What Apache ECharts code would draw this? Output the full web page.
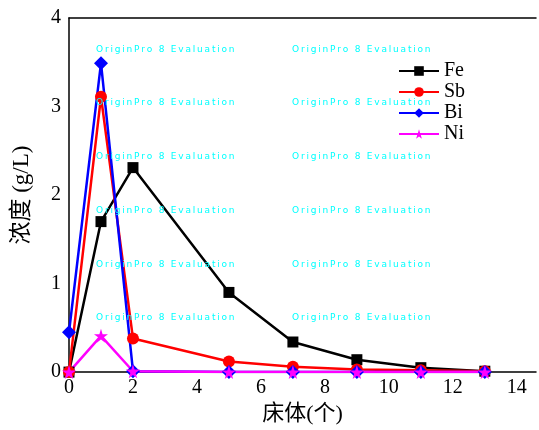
<!DOCTYPE html>
<html>
<head>
<meta charset="utf-8">
<script src="https://cdn.jsdelivr.net/npm/echarts@6/dist/echarts.min.js"></script>
<style>
  html, body { margin: 0; padding: 0; background: #fff; }
  #main { width: 539px; height: 430px; }
</style>
</head>
<body>
<div id="main"></div>
<script>
// 床体编号
var beds = [0, 1, 2, 5, 7, 9, 11, 13];
// 各元素浓度 (g/L)
var fe = [0, 1.70, 2.31, 0.90, 0.34, 0.14, 0.05, 0.01];
var sb = [0, 3.11, 0.38, 0.12, 0.06, 0.03, 0.02, 0.01];
var bi = [0.45, 3.49, 0.01, 0, 0, 0, 0, 0];
var ni = [0, 0.41, 0.01, 0, 0, 0, 0, 0];
var xTicks = [0, 2, 4, 6, 8, 10, 12, 14];
var yTicks = [0, 1, 2, 3, 4];

function pairs(vals) {
  return beds.map(function (b, i) { return [b, vals[i]]; });
}

var star = 'path://M50,0 L61,35 L98,35 L68,57 L79,91 L50,70 L21,91 L32,57 L2,35 L39,35 Z';
var serif = '"Liberation Serif", "Noto Sans CJK SC", serif';

// 水印文字
var mark = 'OriginPro 8 Evaluation'.split('').join('\u2009');
var marks = [];
[50, 103, 157, 211, 265, 318].forEach(function (y) {
  [96, 292].forEach(function (x) {
    marks.push({
      type: 'text', left: x, top: y - 5, z: 100,
      style: { text: mark, fill: '#00ffff', font: '9px "DejaVu Sans", sans-serif' }
    });
  });
});

function mk(name, vals, color, symbol, size) {
  return {
    name: name,
    type: 'line',
    data: pairs(vals),
    symbol: symbol,
    symbolSize: size,
    showAllSymbol: true,
    lineStyle: { color: color, width: 2.5 },
    itemStyle: { color: color },
    clip: true
  };
}

var chart = echarts.init(document.getElementById('main'));
chart.setOption({
  animation: false,
  backgroundColor: '#fff',
  grid: { left: 69, top: 18, right: 0, bottom: 53 },
  legend: {
    orient: 'vertical',
    left: 393, top: 56,
    itemWidth: 40, itemHeight: 12, itemGap: 1,
    textStyle: { fontFamily: serif, fontSize: 20, color: '#000' },
    data: ['Fe', 'Sb', 'Bi', 'Ni']
  },
  xAxis: [{
    type: 'value', min: 0, max: 14.6, interval: 2,
    name: '床体(个)', nameLocation: 'middle', nameGap: 27,
    nameTextStyle: { fontFamily: serif, fontSize: 22, color: '#000' },
    axisLine: { lineStyle: { color: '#000', width: 1.5 } },
    axisTick: { show: false },
    splitLine: { show: false },
    axisLabel: {
      fontFamily: serif, fontSize: 20, color: '#000', margin: 6,
      formatter: function (v) { return xTicks.indexOf(v) >= 0 ? String(v) : ''; }
    }
  }, {
    type: 'value', position: 'top', min: 0, max: 14.6,
    axisLine: { show: true, lineStyle: { color: '#000', width: 1.5 } },
    axisTick: { show: false }, axisLabel: { show: false }, splitLine: { show: false }
  }],
  yAxis: {
    type: 'value', min: 0, max: 4, interval: 1,
    name: '浓度 (g/L)', nameLocation: 'middle', nameGap: 36,
    nameTextStyle: { fontFamily: serif, fontSize: 23, color: '#000' },
    axisLine: { show: true, lineStyle: { color: '#000', width: 1.5 } },
    axisTick: { show: false },
    splitLine: { show: false },
    axisLabel: {
      fontFamily: serif, fontSize: 20, color: '#000', margin: 8,
      formatter: function (v) { return yTicks.indexOf(v) >= 0 ? String(v) : ''; }
    }
  },
  graphic: marks,
  series: [
    mk('Fe', fe, '#000000', 'rect', 11),
    mk('Sb', sb, '#ff0000', 'circle', 12),
    mk('Bi', bi, '#0000ff', 'diamond', 14),
    mk('Ni', ni, '#ff00ff', star, 14)
  ]
});
</script>
</body>
</html>
